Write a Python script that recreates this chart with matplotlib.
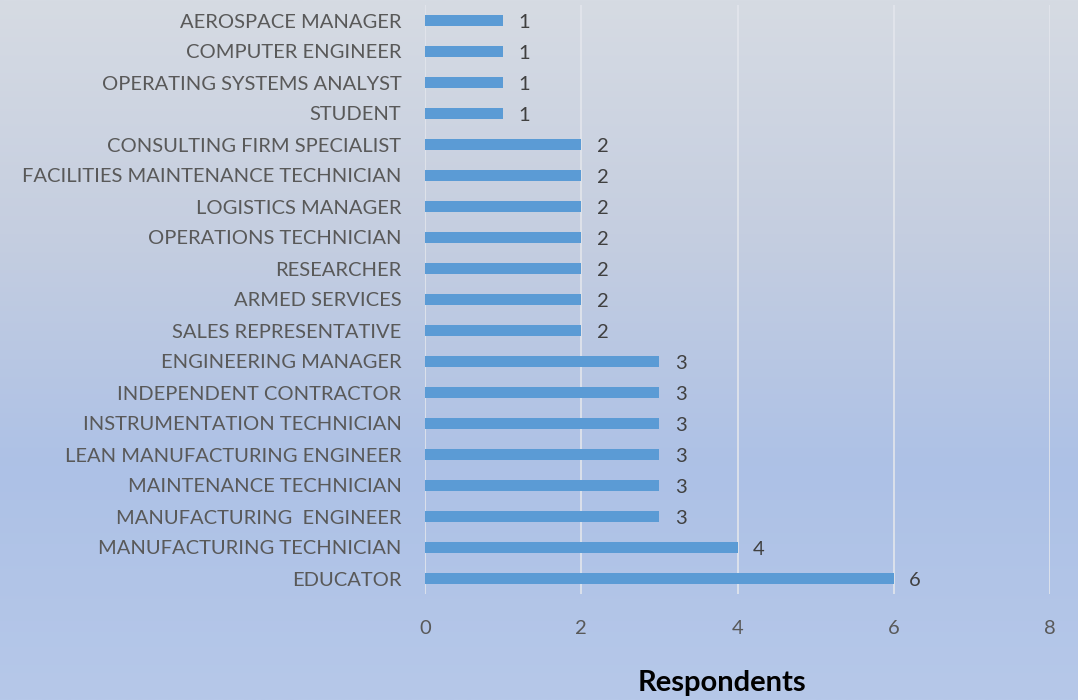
import numpy as np
import matplotlib
matplotlib.use("Agg")
from matplotlib import pyplot as plt
from matplotlib.colors import LinearSegmentedColormap

plt.rcParams['font.family'] = ['Lato', 'DejaVu Sans']

# occupations, top to bottom as shown
occupations = [
    "AEROSPACE MANAGER",
    "COMPUTER ENGINEER",
    "OPERATING SYSTEMS ANALYST",
    "STUDENT",
    "CONSULTING FIRM SPECIALIST",
    "FACILITIES MAINTENANCE TECHNICIAN",
    "LOGISTICS MANAGER",
    "OPERATIONS TECHNICIAN",
    "RESEARCHER",
    "ARMED SERVICES",
    "SALES REPRESENTATIVE",
    "ENGINEERING MANAGER",
    "INDEPENDENT CONTRACTOR",
    "INSTRUMENTATION TECHNICIAN",
    "LEAN MANUFACTURING ENGINEER",
    "MAINTENANCE TECHNICIAN",
    "MANUFACTURING  ENGINEER",
    "MANUFACTURING TECHNICIAN",
    "EDUCATOR",
]
respondents = [1, 1, 1, 1, 2, 2, 2, 2, 2, 2, 2, 3, 3, 3, 3, 3, 3, 4, 6]
xticks = [0, 2, 4, 6, 8]

fig = plt.figure(figsize=(10.78, 7.0), dpi=100)

# gradient background
bg = fig.add_axes([0, 0, 1, 1], zorder=-1)
grad_cmap = LinearSegmentedColormap.from_list(
    "bg", ["#D6DBE3", "#C5CEE0", "#ADC1E6", "#B6C8E9"])
bg.imshow(np.linspace(0, 1, 256).reshape(-1, 1), aspect='auto',
          cmap=grad_cmap, extent=[0, 1, 0, 1])
bg.axis('off')

ax = fig.add_axes([425 / 1078, 1 - 594 / 700, 625 / 1078, 589 / 700])
ax.patch.set_alpha(0)

ypos = np.arange(len(occupations))[::-1]
ax.barh(ypos, respondents, height=0.37, color="#5B9BD5", zorder=3)
for y, v in zip(ypos, respondents):
    ax.text(v + 0.2, y - 0.05, str(v), va='center', ha='left', fontsize=14.5,
            color="#404040")

ax.set_xlim(0, 8)
ax.set_ylim(-0.5, len(occupations) - 0.5)
ax.set_xticks(xticks)
ax.set_yticks(ypos)
ax.set_yticklabels(occupations)
ax.tick_params(axis='both', length=0, labelsize=14.5, labelcolor="#595959")
ax.tick_params(axis='y', pad=17)
ax.tick_params(axis='x', pad=19)
ax.grid(axis='x', color="#E3E6EC", linewidth=1.2, zorder=0)
for s in ax.spines.values():
    s.set_visible(False)

fig.text(722 / 1078, 1 - 683 / 700, "Respondents", ha='center', va='center',
         fontsize=21, fontweight='bold', color="black")

fig.savefig("out.png", dpi=100)
